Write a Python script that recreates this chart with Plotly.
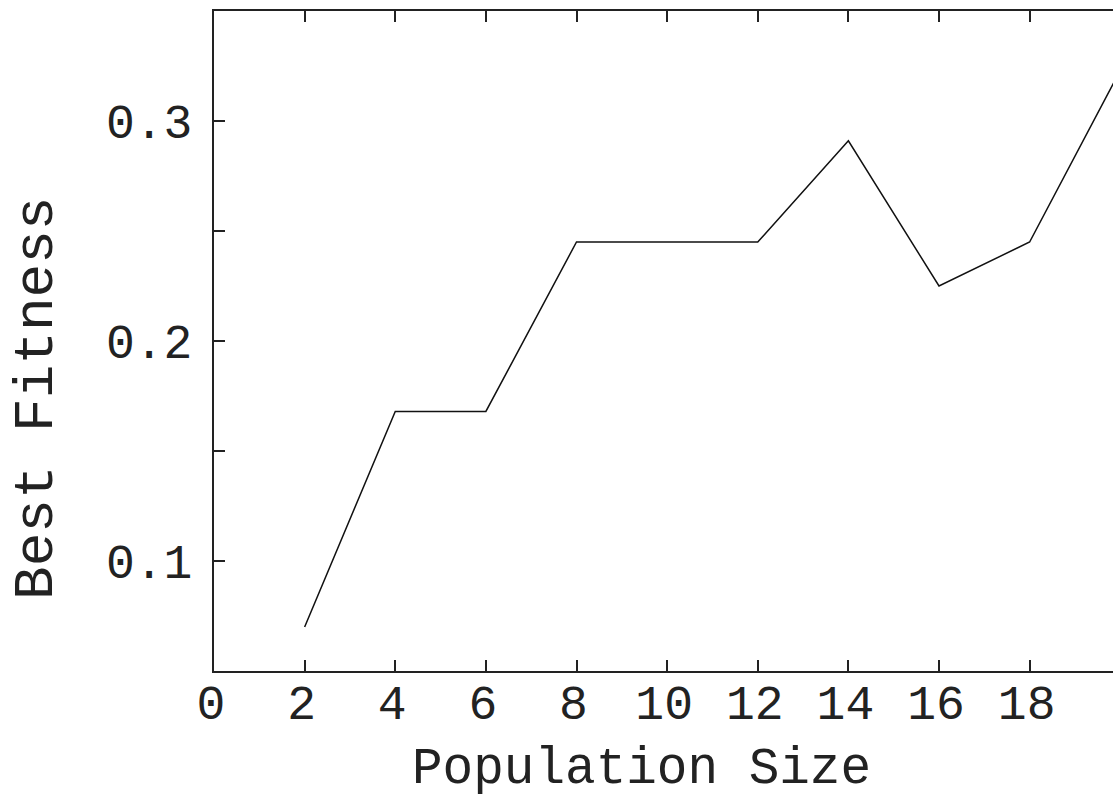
import plotly.graph_objects as go

population_size = [2, 4, 6, 8, 10, 12, 14, 16, 18, 20]
best_fitness = [0.070, 0.168, 0.168, 0.245, 0.245, 0.245, 0.291, 0.225, 0.245, 0.323]
x_tick_vals = [0, 2, 4, 6, 8, 10, 12, 14, 16, 18]
y_tick_vals = [0.1, 0.2, 0.3]
y_tick_text = ["0.1", "0.2", "0.3"]
x_title = "Population Size"
y_title = "Best Fitness"

FONT = "Liberation Mono, Courier New, monospace"
INK = "#222222"

fig = go.Figure()
fig.add_trace(go.Scatter(
    x=population_size, y=best_fitness, mode="lines",
    line=dict(color="#111111", width=1.5), showlegend=False,
))

fig.update_layout(
    width=1113, height=798,
    margin=dict(l=214, r=0, t=11, b=127),
    paper_bgcolor="white", plot_bgcolor="white",
    font=dict(family=FONT, color=INK, size=48),
    xaxis=dict(
        range=[0, 19.84], tickvals=x_tick_vals,
        ticks="inside", ticklen=11, tickwidth=2, tickcolor=INK,
        showline=True, linecolor=INK, linewidth=2, mirror="ticks",
        showgrid=False, zeroline=False,
        tickfont=dict(family=FONT, size=48, color=INK),
        ticklabelstandoff=-12, ticklabelshift=-3,
    ),
    yaxis=dict(
        range=[0.05, 0.35], tickvals=y_tick_vals, ticktext=y_tick_text,
        ticks="inside", ticklen=11, tickwidth=2, tickcolor=INK,
        minor=dict(tickvals=[0.15, 0.25], ticks="inside", ticklen=11, tickwidth=2, tickcolor=INK),
        showline=True, linecolor=INK, linewidth=2, mirror=False,
        showgrid=False, zeroline=False,
        tickfont=dict(family=FONT, size=48, color=INK),
        ticklabelstandoff=10,
    ),
    annotations=[
        dict(text=x_title, xref="paper", yref="paper", x=0.476, y=-0.149,
             xanchor="center", yanchor="middle", showarrow=False,
             font=dict(family=FONT, size=51, color=INK)),
        dict(text=y_title, xref="paper", yref="paper", x=-0.197, y=0.4136,
             xanchor="center", yanchor="middle", textangle=-90, showarrow=False,
             font=dict(family=FONT, size=56, color=INK)),
    ],
)

fig.write_html("out.html")
